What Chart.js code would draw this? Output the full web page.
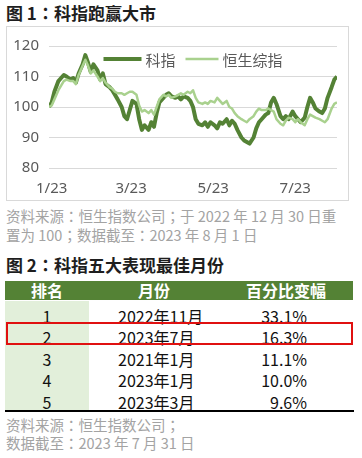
<!DOCTYPE html>
<html><head><meta charset="utf-8">
<script src="https://cdn.jsdelivr.net/npm/chart.js@4.4.1/dist/chart.umd.min.js"></script>
<style>
html,body{margin:0;padding:0;background:#fff;width:362px;height:458px;overflow:hidden;font-family:"Noto Sans CJK SC","Noto Sans",sans-serif;}
.abs{position:absolute;white-space:nowrap;}
.title{font-size:17px;font-weight:bold;color:#1e1e1e;line-height:20px;}
.note{font-size:14.5px;color:#a3a3a3;line-height:18px;}
.p{font-family:"Noto Sans CJK TC","Noto Sans CJK SC",sans-serif;}
#box{position:absolute;left:6px;top:26px;width:341px;height:173px;border:1px solid #d9d9d9;}
#box canvas{display:block;}
.hdr{position:absolute;left:5px;top:281px;width:348px;height:19px;background:#548235;}
.hcell{position:absolute;top:281px;height:19px;line-height:19px;color:#fff;font-weight:bold;font-size:16px;text-align:center;}
.col1{position:absolute;left:5px;top:301px;width:84px;height:109px;background:#e2efda;}
.cell{position:absolute;height:22px;line-height:22px;font-size:16px;color:#111;}
</style></head>
<body>
<div class="abs title" style="left:6px;top:3px;">图 1：科指跑赢大市</div>
<div id="box"><canvas id="c" width="341" height="173"></canvas></div>
<div class="abs note" style="left:6px;top:207px;">资料来源：恒生指数公司；于 2022 年 12 月 30 日重</div>
<div class="abs note" style="left:6px;top:226px;">置为 100；数据截至：2023 年 8 月 1 日</div>

<div class="abs title" style="left:6px;top:255px;">图 2：科指五大表现最佳月份</div>
<div class="hdr"></div>
<div class="col1"></div>
<div id="table"></div>
<div class="abs" style="left:6px;top:322px;width:347px;height:23px;border:2.5px solid #e01010;box-sizing:border-box;"></div>
<div class="abs" style="left:5px;top:410px;width:349px;height:2px;background:#000;"></div>
<div class="abs note" style="left:6px;top:416px;">资料来源：恒生指数公司；</div>
<div class="abs note" style="left:6px;top:434px;">数据截至：2023 年 7 月 31 日</div>

<script>
// ---- Chart 1 data (days since 2023-01-01; 2022-12-30 = -2) ----
const days = [-2,0,2,5,7,9,11,14,16,18,20,23,25,27,29,31,34,36,38,40,43,45,47,49,52,54,56,58,60,63,65,67,69,72,74,76,78,80,83,85,87,89,92,94,96,98,101,103,105,107,109,112,114,116,118,121,123,125,127,130,132,134,136,138,141,143,145,147,150,152,154,156,159,161,163,165,167,170,172,174,176,179,181,183,185,188,190,192,194,196,199,201,203,205,208,210,212];
const techIndex = [100,101.5,105,108.5,109.5,110.5,110,109,109.5,108,111,114,117,114.5,111.5,114,112,109,111,107.5,106.5,105.5,104,102.5,100,97,96,99,102,101,96,92.5,94,92.5,95,93.5,98,101.5,103,104,104.5,103.5,103,103.5,102.5,103.5,103,102,100,96,94.5,94,95,93.5,95,94,93,95,94.5,96,94,95.5,94.5,92.5,90,89,88.5,88,90,93,95,96,97.5,98,101.5,103,101,97,96,97,96,98.5,97,96,95,96.5,100,103,101.5,99.5,98.5,98,99.5,103,106.5,109,110];
const hsciIndex = [100,100.5,102.5,105.5,107,108.5,109,108.5,108.5,107.5,110.5,113.5,115.5,113.5,111,112,110,108.5,109.5,108,106.5,106,105,104.5,104.5,104,104.5,105,105,104,100.5,98.5,99,98,99,97.5,100,102.5,104,103.5,104,103,103.5,104,104.5,104,105,104.5,105.5,103,101.5,101,101.5,101,102,101.5,103,102,101,102,100,99.5,98,97,96,95.5,95,96,97,98.5,99.5,99,99,99.5,99,98.5,96,94.5,94,95.5,96.5,96,95,96,95,94,96,97.5,97,96.5,96,95.5,95,96,99.5,101,101.5];
const seriesNames = ['科指','恒生综指'];
const tickDays = [0,59,120,181];
const tickLabels = ['1/23','3/23','5/23','7/23'];
const yTicks = [80,90,100,110,120];

// ---- Table data ----
const ranks = ['1','2','3','4','5'];
const months = ['2022年11月','2023年7月','2021年1月','2023年1月','2023年3月'];
const changes = ['33.1%','16.3%','11.1%','10.0%','9.6%'];
const headers = ['排名','月份','百分比变幅'];

// centred full-width colon / semicolon as in the reference
document.querySelectorAll('.title,.note').forEach(el=>{
  el.innerHTML = el.textContent.replace(/([：；])/g,'<span class="p">$1</span>');
});

(function(){
  const t = document.getElementById('table');
  let h = '';
  const hx = [[5,84],[89,130],[219,134]];
  headers.forEach((s,i)=>{h += `<div class="hcell" style="left:${hx[i][0]}px;width:${hx[i][1]}px;">${s}</div>`;});
  const rowTops = [304.5,326,347.7,369.3,391];
  ranks.forEach((r,i)=>{
    const top = rowTops[i];
    h += `<div class="cell" style="left:5px;width:84px;text-align:center;top:${top}px;">${r}</div>`;
    h += `<div class="cell" style="left:118px;top:${top}px;">${months[i]}</div>`;
    h += `<div class="cell" style="left:200px;width:107px;text-align:right;top:${top}px;">${changes[i]}</div>`;
  });
  t.innerHTML = h;
})();

const dark = '#548235', light = '#a9d18e';
const FONT_CJK = '"Noto Sans CJK SC","Noto Sans",sans-serif';

// Legend drawn inside the plot area (as in the reference)
const insideLegend = {
  id: 'insideLegend',
  afterDatasetsDraw(chart) {
    const c = chart.ctx, a = chart.chartArea;
    const ds = chart.data.datasets;
    c.save();
    c.font = '15px ' + FONT_CJK;
    const sample = [38, 33], gap = 4, space = 10;
    let total = 0;
    ds.forEach((d,i)=>{ total += sample[i] + gap + c.measureText(d.label).width + (i < ds.length-1 ? space : 0); });
    let x = (a.left + a.right) / 2 - total / 2;
    const y = a.top + 13;
    ds.forEach((d,i)=>{
      c.strokeStyle = d.borderColor; c.lineWidth = d.borderWidth; c.lineCap = 'butt';
      c.beginPath(); c.moveTo(x, y); c.lineTo(x + sample[i], y); c.stroke();
      x += sample[i] + gap;
      c.fillStyle = '#595959'; c.textBaseline = 'middle'; c.textAlign = 'left';
      c.fillText(d.label, x, y + 1);
      x += c.measureText(d.label).width + space;
    });
    c.restore();
  }
};

new Chart(document.getElementById('c'), {
  type: 'line',
  data: {
    datasets: [
      {label: seriesNames[0], data: days.map((d,i)=>({x:d,y:techIndex[i]})), borderColor: dark, backgroundColor: dark, borderWidth: 4, pointRadius: 0, tension: 0, order: 1, borderJoinStyle:'round'},
      {label: seriesNames[1], data: days.map((d,i)=>({x:d,y:hsciIndex[i]})), borderColor: light, backgroundColor: light, borderWidth: 2.5, pointRadius: 0, tension: 0, order: 0, borderJoinStyle:'round'}
    ]
  },
  plugins: [insideLegend],
  options: {
    responsive: false,
    animation: false,
    events: [],
    layout: {padding: {top: 15, right: 11, left: 0, bottom: 0}},
    plugins: {
      tooltip: {enabled: false},
      legend: {display: false}
    },
    scales: {
      x: {
        type: 'linear', min: -2, max: 212,
        grid: {display: false, drawTicks: false},
        border: {display: false},
        afterBuildTicks: s => { s.ticks = tickDays.map(v=>({value:v})); },
        afterFit: s => { s.height = 32; },
        ticks: {autoSkip: false, maxRotation: 0, padding: 12, color: '#595959',
          font: {size: 15, family: '"Noto Sans","Noto Sans CJK SC",sans-serif'},
          callback: (v, i) => tickLabels[i]}
      },
      y: {
        min: 80, max: 120,
        grid: {color: '#d9d9d9', drawTicks: false, lineWidth: 1},
        border: {display: false},
        afterBuildTicks: s => { s.ticks = yTicks.map(v=>({value:v})); },
        afterFit: s => { s.width = 42; },
        ticks: {padding: 10, color: '#595959',
          font: {size: 15, family: '"Noto Sans","Noto Sans CJK SC",sans-serif'}}
      }
    }
  }
});
</script>
</body></html>
